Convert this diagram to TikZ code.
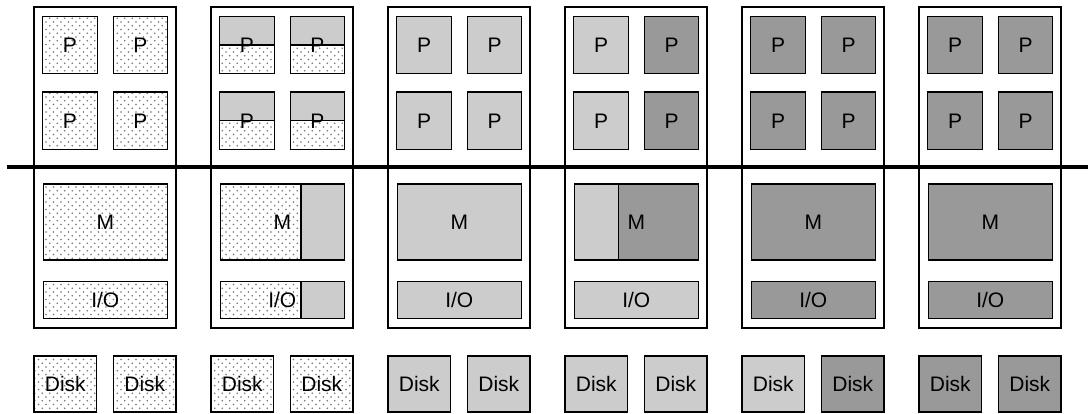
\documentclass[tikz,border=0pt]{standalone}
\usepackage{fontspec}
\setmainfont{Liberation Sans}
\usetikzlibrary{patterns,calc}
\pgfdeclarepatternformonly{mydots}{\pgfqpoint{-1pt}{-1pt}}{\pgfqpoint{8.5pt}{8.5pt}}{\pgfqpoint{7.5pt}{7.5pt}}{%
  \pgfpathcircle{\pgfqpoint{1pt}{1pt}}{0.9pt}%
  \pgfpathcircle{\pgfqpoint{4.75pt}{4.75pt}}{0.9pt}%
  \pgfusepath{fill}}
\definecolor{lg}{HTML}{CCCCCC}
\definecolor{dg}{HTML}{999999}
\tikzset{
  outerbox/.style={draw, line width=2pt, minimum width=142, minimum height=321, inner sep=0},
  unit/.style={draw, line width=1.3pt, inner sep=0, font=\fontsize{21}{21}\selectfont},
  pbox/.style={unit, minimum width=54.5, minimum height=57.5},
  mbox/.style={unit, minimum width=124, minimum height=76},
  iobox/.style={unit, minimum width=124, minimum height=36.5},
  diskbox/.style={unit, minimum width=62.5, minimum height=56},
  dotted fill/.style={pattern=mydots, pattern color=black!55},
  light/.style={fill=lg},
  dark/.style={fill=dg},
  tophalf/.style={path picture={
     \fill[#1] (path picture bounding box.north west) rectangle (path picture bounding box.east);
     \draw[line width=1.3pt] (path picture bounding box.west) -- (path picture bounding box.east);}},
  rightpart/.style 2 args={path picture={
     \fill[#2] ($(path picture bounding box.south west)!#1!(path picture bounding box.south east)$) rectangle (path picture bounding box.north east);
     \draw[line width=1.3pt] ($(path picture bounding box.south west)!#1!(path picture bounding box.south east)$) -- ($(path picture bounding box.north west)!#1!(path picture bounding box.north east)$);}},
  bus/.style={line width=3.5pt}
}
\begin{document}
\begin{tikzpicture}[x=1pt,y=-1pt]
\useasboundingbox (0,0) rectangle (1088,413);
% outer boxes
\foreach \i in {0,...,5}{
  \node[outerbox] (o\i) at (34+177*\i+71,167.5) {};
}
% bus line
\coordinate (busL) at (7,167);
\coordinate (busR) at (1088,167);
\draw[bus] (busL) -- (busR);

% column 1: all dotted
\begin{scope}[xshift=34]
\node[pbox,dotted fill] (a1) at (36,45) {P};
\node[pbox,dotted fill] (a2) at (106.5,45) {P};
\node[pbox,dotted fill] (a3) at (36,120.8) {P};
\node[pbox,dotted fill] (a4) at (106.5,120.8) {P};
\node[mbox,dotted fill] (am) at (71.3,222) {M};
\node[iobox,dotted fill] (aio) at (71.3,300) {I/O};
\node[diskbox,dotted fill] (ad1) at (31.3,384) {Disk};
\node[diskbox,dotted fill] (ad2) at (110.8,384) {Disk};
\end{scope}

% column 2: half migrated
\begin{scope}[xshift=211]
\node[pbox,dotted fill,tophalf=lg] (b1) at (36,45) {P};
\node[pbox,dotted fill,tophalf=lg] (b2) at (106.5,45) {P};
\node[pbox,dotted fill,tophalf=lg] (b3) at (36,120.8) {P};
\node[pbox,dotted fill,tophalf=lg] (b4) at (106.5,120.8) {P};
\node[mbox,dotted fill,rightpart={0.65}{lg}] (bm) at (71.3,222) {M};
\node[iobox,dotted fill,rightpart={0.65}{lg}] (bio) at (71.3,300) {I/O};
\node[diskbox,dotted fill] (bd1) at (31.3,384) {Disk};
\node[diskbox,dotted fill] (bd2) at (110.8,384) {Disk};
\end{scope}

% column 3: all light
\begin{scope}[xshift=388]
\node[pbox,light] (c1) at (36,45) {P};
\node[pbox,light] (c2) at (106.5,45) {P};
\node[pbox,light] (c3) at (36,120.8) {P};
\node[pbox,light] (c4) at (106.5,120.8) {P};
\node[mbox,light] (cm) at (71.3,222) {M};
\node[iobox,light] (cio) at (71.3,300) {I/O};
\node[diskbox,light] (cd1) at (31.3,384) {Disk};
\node[diskbox,light] (cd2) at (110.8,384) {Disk};
\end{scope}

% column 4
\begin{scope}[xshift=565]
\node[pbox,light] (d1) at (36,45) {P};
\node[pbox,dark] (d2) at (106.5,45) {P};
\node[pbox,light] (d3) at (36,120.8) {P};
\node[pbox,dark] (d4) at (106.5,120.8) {P};
\node[mbox,light,rightpart={0.355}{dg}] (dm) at (71.3,222) {M};
\node[iobox,light] (dio) at (71.3,300) {I/O};
\node[diskbox,light] (dd1) at (31.3,384) {Disk};
\node[diskbox,light] (dd2) at (110.8,384) {Disk};
\end{scope}

% column 5
\begin{scope}[xshift=742]
\node[pbox,dark] (e1) at (36,45) {P};
\node[pbox,dark] (e2) at (106.5,45) {P};
\node[pbox,dark] (e3) at (36,120.8) {P};
\node[pbox,dark] (e4) at (106.5,120.8) {P};
\node[mbox,dark] (em) at (71.3,222) {M};
\node[iobox,dark] (eio) at (71.3,300) {I/O};
\node[diskbox,light] (ed1) at (31.3,384) {Disk};
\node[diskbox,dark] (ed2) at (110.8,384) {Disk};
\end{scope}

% column 6
\begin{scope}[xshift=919]
\node[pbox,dark] (f1) at (36,45) {P};
\node[pbox,dark] (f2) at (106.5,45) {P};
\node[pbox,dark] (f3) at (36,120.8) {P};
\node[pbox,dark] (f4) at (106.5,120.8) {P};
\node[mbox,dark] (fm) at (71.3,222) {M};
\node[iobox,dark] (fio) at (71.3,300) {I/O};
\node[diskbox,dark] (fd1) at (31.3,384) {Disk};
\node[diskbox,dark] (fd2) at (110.8,384) {Disk};
\end{scope}
\end{tikzpicture}
\end{document}
